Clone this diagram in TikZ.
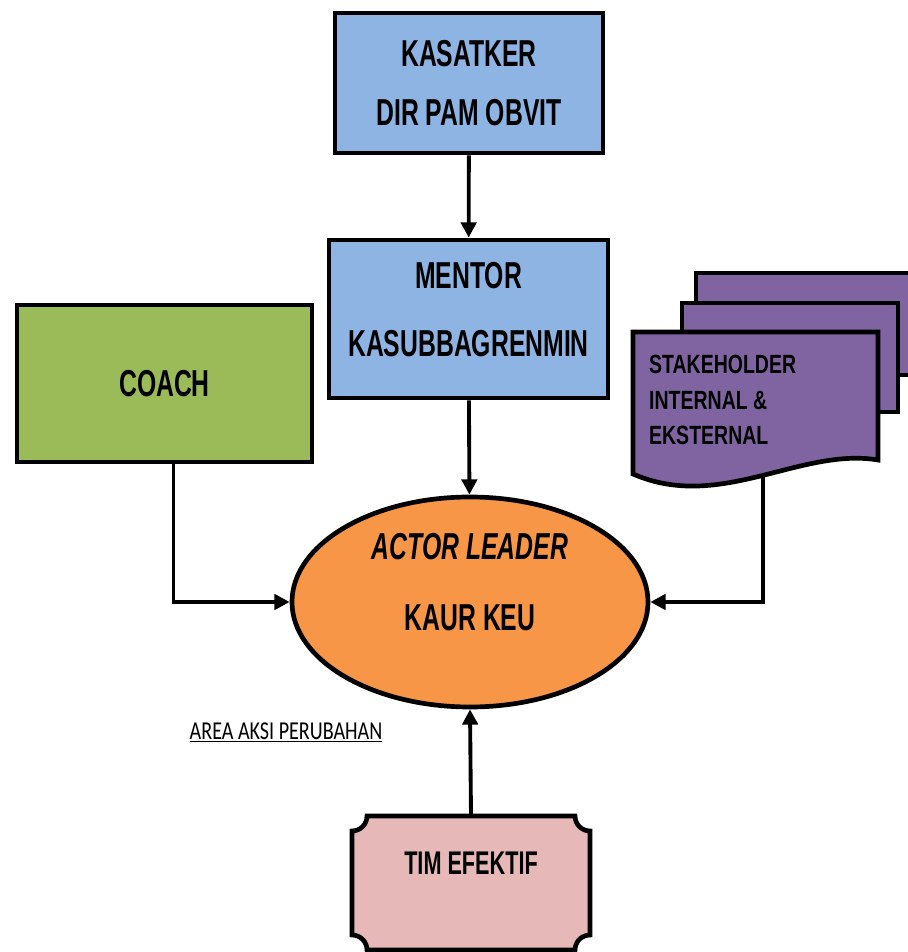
\documentclass[tikz,border=0pt]{standalone}
\usepackage{fontspec}
\setmainfont{Liberation Sans}[FakeStretch=0.66]
\newfontfamily\stakefont{Liberation Sans}[FakeStretch=0.74]
\newfontfamily\areafont{Carlito}[FakeStretch=0.78]
\usetikzlibrary{shapes.geometric,arrows.meta}

\definecolor{boxblue}{HTML}{8EB4E3}
\definecolor{coachgreen}{HTML}{9BBB59}
\definecolor{actororange}{HTML}{F79646}
\definecolor{stakepurple}{HTML}{8064A2}
\definecolor{timpink}{HTML}{E6B9B8}

\begin{document}
\begin{tikzpicture}[x=0.03cm,y=0.03cm,
  box/.style={draw,line width=4pt,align=center,font=\bfseries\fontsize{32}{51}\selectfont},
  conn/.style={line width=3.3pt,-{Triangle[length=13pt,width=13pt]}}]

\useasboundingbox (0,0) rectangle (908,952);

% Draw boxes
\node[box,fill=boxblue,minimum width=8.04cm,minimum height=4.2cm] (kasatker) at (469,869) {KASATKER\\DIR PAM OBVIT};
\node[box,fill=boxblue,minimum width=8.37cm,minimum height=4.74cm,text depth=0.6cm,
  font=\bfseries\fontsize{32}{58}\selectfont] (mentor) at (468.5,633) {MENTOR\\KASUBBAGRENMIN};
\node[box,fill=coachgreen,minimum width=8.85cm,minimum height=4.71cm] (coach) at (164.5,568.5) {COACH};
\node[box,ellipse,fill=actororange,minimum width=10.68cm,minimum height=6.3cm,inner sep=0pt,text depth=1.2cm,
  font=\bfseries\fontsize{32}{60}\selectfont] (actor) at (470,350) {\textit{ACTOR LEADER}\\KAUR KEU};

% Draw stakeholder documents
\draw[line width=4pt,fill=stakepurple] (696,577) rectangle (930,679);
\draw[line width=4pt,fill=stakepurple] (682,540) rectangle (898,649);
\draw[line width=4pt,fill=stakepurple] (633,620) -- (878,620) -- (878,492)
  .. controls (800,505) and (720,440) .. (633,478) -- cycle;
\node[align=left,anchor=west,font=\stakefont\bfseries\fontsize{22.5}{30}\selectfont] (stake) at (645,552)
  {STAKEHOLDER\\INTERNAL \&\\EKSTERNAL};
\coordinate (stakeb) at (763,476);

% Draw plaque
\draw[line width=4pt,fill=timpink] (367,136) -- (575,136)
  arc[start angle=180,end angle=270,radius=15] -- (590,17)
  arc[start angle=90,end angle=180,radius=15] -- (367,2)
  arc[start angle=0,end angle=90,radius=15] -- (352,121)
  arc[start angle=270,end angle=360,radius=15] -- cycle;
\node[font=\bfseries\fontsize{28}{30}\selectfont,minimum height=2.82cm] (tim) at (471,89) {TIM EFEKTIF};

\node[font=\areafont\fontsize{22}{24}\selectfont] (area) at (286,220) {\underline{AREA AKSI PERUBAHAN}};

% Draw connectors
\draw[conn] (kasatker) -- (mentor);
\draw[conn] (mentor) -- (actor);
\draw[conn] ([xshift=0.27cm]coach.south) |- (actor.west);
\draw[conn] (stakeb) |- (actor.east);
\draw[conn] (tim.north) -- (actor.south);

\end{tikzpicture}
\end{document}
